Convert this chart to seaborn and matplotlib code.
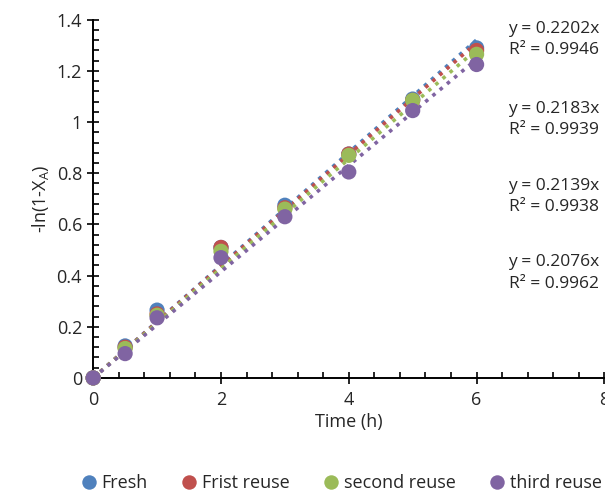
import matplotlib
matplotlib.use("Agg")
import matplotlib.pyplot as plt
import matplotlib.ticker as mticker
import numpy as np
import pandas as pd
import seaborn as sns

time_h = [0, 0.5, 1, 2, 3, 4, 5, 6]
fresh = [0, 0.125, 0.265, 0.51, 0.675, 0.875, 1.09, 1.29]
first_reuse = [0, 0.12, 0.25, 0.51, 0.665, 0.875, 1.085, 1.28]
second_reuse = [0, 0.115, 0.245, 0.495, 0.66, 0.87, 1.085, 1.265]
third_reuse = [0, 0.095, 0.235, 0.47, 0.63, 0.805, 1.045, 1.225]

series_names = ["Fresh", "Frist reuse", "second reuse", "third reuse"]
slopes = [0.2202, 0.2183, 0.2139, 0.2076]
r2 = [0.9946, 0.9939, 0.9938, 0.9962]
colors = ["#4F81BD", "#C0504D", "#9BBB59", "#8064A2"]

df = pd.concat(
    [pd.DataFrame({"Time": time_h, "y": vals, "series": name})
     for name, vals in zip(series_names, [fresh, first_reuse, second_reuse, third_reuse])],
    ignore_index=True,
)

sns.set_style("white")
plt.rcParams["font.family"] = ["Open Sans", "DejaVu Sans"]

fig = plt.figure(figsize=(6.05, 4.94), dpi=100)
ax = fig.add_axes([0.154, 0.235, 0.845, 0.725])

# trendlines (through origin)
xs = np.array([0, 6])
for k, c in zip(slopes, colors):
    ax.plot(xs, k * xs, linestyle=(0, (1, 1.6)), lw=2.6, color=c, zorder=1)

sns.scatterplot(data=df, x="Time", y="y", hue="series", palette=colors,
                s=120, edgecolor="none", ax=ax, legend=True, zorder=3)
for coll in ax.collections:
    coll.set_clip_on(False)

# equation labels
label_y = [1.322, 1.011, 0.709, 0.41]
for k, r, yy in zip(slopes, r2, label_y):
    ax.text(7.92, yy, f"y = {k:.4f}x\nR² = {r:.4f}", ha="right", va="center",
            fontsize=12.5, linespacing=1.45, clip_on=False)

ax.set_xlim(0, 8)
ax.set_ylim(0, 1.4)
ax.xaxis.set_major_locator(mticker.MultipleLocator(2))
ax.xaxis.set_minor_locator(mticker.MultipleLocator(0.4))
ax.yaxis.set_major_locator(mticker.MultipleLocator(0.2))
ax.yaxis.set_minor_locator(mticker.MultipleLocator(0.04))
ax.yaxis.set_major_formatter(mticker.FuncFormatter(lambda v, p: f"{v:g}"))
ax.xaxis.set_major_formatter(mticker.FuncFormatter(lambda v, p: f"{v:g}"))
ax.tick_params(which="major", direction="inout", length=9, width=1.2, labelsize=13, color="black")
ax.tick_params(which="minor", direction="in", length=4, width=1.2, color="black")
ax.tick_params(axis="x", which="both", bottom=True)
ax.tick_params(axis="y", which="both", left=True)
ax.tick_params(axis="x", pad=5)

for side in ["top", "right"]:
    ax.spines[side].set_visible(False)
for side in ["left", "bottom"]:
    ax.spines[side].set_color("black")
    ax.spines[side].set_linewidth(1.4)

ax.set_xlabel("Time (h)", fontsize=13, labelpad=3)
ax.set_ylabel("-ln(1-X$_\\mathregular{A}$)", fontsize=13, labelpad=4)

handles, labels = ax.get_legend_handles_labels()
ax.get_legend().remove()
fig.legend(handles, labels, loc="lower center", bbox_to_anchor=(0.565, -0.022), ncol=4,
           frameon=False, fontsize=13, handlelength=0.8, handletextpad=0.3,
           columnspacing=1.9, markerscale=0.95, borderpad=0.2)

fig.savefig("out.png", dpi=100)
